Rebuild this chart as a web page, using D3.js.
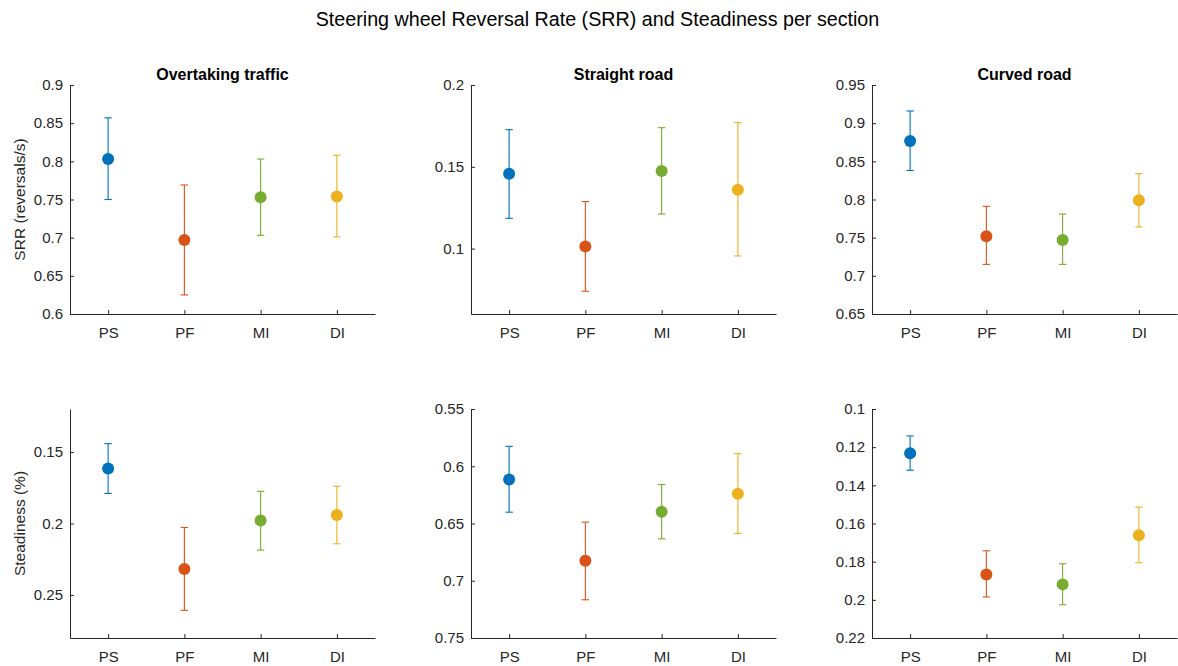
<!DOCTYPE html>
<html>
<head>
<meta charset="utf-8">
<script src="https://cdn.jsdelivr.net/npm/d3@7"></script>
<style>
  html, body { margin: 0; padding: 0; background: #fff; }
  svg { display: block; font-family: "Liberation Sans", Arial, Helvetica, sans-serif; }
</style>
</head>
<body>
<svg id="chart" width="1178" height="666"></svg>
<script>
// Conditions shown on every x axis
const conditions = ["PS", "PF", "MI", "DI"];
const colors = ["#0072BD", "#D95319", "#77AC30", "#EDB120"];
const sections = ["Overtaking traffic", "Straight road", "Curved road"];

// SRR (reversals/s): mean, lower and upper bounds per condition
const srrOvertakingMean  = [0.803, 0.697, 0.753, 0.754];
const srrOvertakingLow   = [0.750, 0.625, 0.703, 0.701];
const srrOvertakingHigh  = [0.857, 0.769, 0.803, 0.808];

const srrStraightMean    = [0.1458, 0.1012, 0.1474, 0.136];
const srrStraightLow     = [0.1185, 0.0739, 0.1211, 0.0955];
const srrStraightHigh    = [0.1727, 0.1287, 0.1739, 0.177];

const srrCurvedMean      = [0.8766, 0.752, 0.747, 0.799];
const srrCurvedLow       = [0.838, 0.715, 0.715, 0.764];
const srrCurvedHigh      = [0.916, 0.791, 0.781, 0.834];

// Steadiness (%): mean, lower and upper bounds per condition
const stOvertakingMean   = [0.1616, 0.2318, 0.1979, 0.194];
const stOvertakingLow    = [0.1442, 0.2028, 0.1775, 0.174];
const stOvertakingHigh   = [0.179, 0.2607, 0.2186, 0.2142];

const stStraightMean     = [0.6116, 0.6826, 0.6398, 0.6241];
const stStraightLow      = [0.5826, 0.6488, 0.616, 0.589];
const stStraightHigh     = [0.6401, 0.7166, 0.6634, 0.6587];

const stCurvedMean       = [0.1232, 0.1867, 0.1919, 0.1661];
const stCurvedLow        = [0.1141, 0.1743, 0.1811, 0.1514];
const stCurvedHigh       = [0.1321, 0.1985, 0.2026, 0.1806];

// Tick values for each panel
const srrOvertakingTicks = [0.6, 0.65, 0.7, 0.75, 0.8, 0.85, 0.9];
const srrStraightTicks   = [0.1, 0.15, 0.2];
const srrCurvedTicks     = [0.65, 0.7, 0.75, 0.8, 0.85, 0.9, 0.95];
const stOvertakingTicks  = [0.15, 0.2, 0.25];
const stStraightTicks    = [0.55, 0.6, 0.65, 0.7, 0.75];
const stCurvedTicks      = [0.1, 0.12, 0.14, 0.16, 0.18, 0.2, 0.22];

const panels = [
  { row: 0, col: 0, title: sections[0], ylabel: "SRR (reversals/s)", mean: srrOvertakingMean, low: srrOvertakingLow, high: srrOvertakingHigh, ylim: [0.6, 0.9], ticks: srrOvertakingTicks, reverse: false },
  { row: 0, col: 1, title: sections[1], mean: srrStraightMean, low: srrStraightLow, high: srrStraightHigh, ylim: [0.06, 0.2], ticks: srrStraightTicks, reverse: false },
  { row: 0, col: 2, title: sections[2], mean: srrCurvedMean, low: srrCurvedLow, high: srrCurvedHigh, ylim: [0.65, 0.95], ticks: srrCurvedTicks, reverse: false },
  { row: 1, col: 0, ylabel: "Steadiness (%)", mean: stOvertakingMean, low: stOvertakingLow, high: stOvertakingHigh, ylim: [0.12, 0.28], ticks: stOvertakingTicks, reverse: true },
  { row: 1, col: 1, mean: stStraightMean, low: stStraightLow, high: stStraightHigh, ylim: [0.55, 0.75], ticks: stStraightTicks, reverse: true },
  { row: 1, col: 2, mean: stCurvedMean, low: stCurvedLow, high: stCurvedHigh, ylim: [0.1, 0.22], ticks: stCurvedTicks, reverse: true }
];

const svg = d3.select("#chart");
const colLeft = [70, 471, 872];
const plotW = 305;
const rowTop = [85, 409];
const rowBottom = [314, 638];
const textColor = "#262626";

svg.append("text")
  .attr("x", 597.5).attr("y", 26)
  .attr("text-anchor", "middle")
  .attr("font-size", 19.7)
  .attr("fill", "#000")
  .text("Steering wheel Reversal Rate (SRR) and Steadiness per section");

panels.forEach(p => {
  const x0 = colLeft[p.col], x1 = x0 + plotW;
  const y0 = rowTop[p.row], y1 = rowBottom[p.row];

  const x = d3.scaleLinear().domain([0.5, 4.5]).range([x0, x1]);
  const y = d3.scaleLinear().domain(p.ylim).range(p.reverse ? [y0, y1] : [y1, y0]);

  const g = svg.append("g");

  // y axis with inward ticks
  const yAxis = g.append("g").attr("transform", `translate(${x0},0)`)
    .call(d3.axisLeft(y).tickValues(p.ticks).tickSizeInner(-4).tickSizeOuter(0).tickPadding(7).tickFormat(d => String(+d.toFixed(3))));
  // x axis with inward ticks
  const xAxis = g.append("g").attr("transform", `translate(0,${y1})`)
    .call(d3.axisBottom(x).tickValues([1, 2, 3, 4]).tickSizeInner(-4).tickSizeOuter(0).tickPadding(13).tickFormat(d => conditions[d - 1]));

  [yAxis, xAxis].forEach(a => {
    a.select(".domain").attr("stroke", textColor).attr("stroke-width", 1);
    a.selectAll(".tick line").attr("stroke", textColor);
    a.selectAll(".tick text").attr("fill", textColor).attr("font-size", 15).attr("font-family", "Liberation Sans, Arial, sans-serif");
  });

  if (p.title) {
    g.append("text")
      .attr("x", (x0 + x1) / 2).attr("y", 80)
      .attr("text-anchor", "middle")
      .attr("font-size", 16).attr("font-weight", "bold").attr("fill", "#000")
      .text(p.title);
  }
  if (p.ylabel) {
    g.append("text")
      .attr("transform", `translate(25,${(y0 + y1) / 2}) rotate(-90)`)
      .attr("text-anchor", "middle")
      .attr("font-size", 15.5).attr("fill", textColor)
      .text(p.ylabel);
  }

  // error bars and markers
  conditions.forEach((c, i) => {
    const cx = x(i + 1);
    const col = colors[i];
    const eb = g.append("g").attr("stroke", col).attr("stroke-width", 1.1);
    eb.append("line").attr("x1", cx).attr("x2", cx).attr("y1", y(p.low[i])).attr("y2", y(p.high[i]));
    eb.append("line").attr("x1", cx - 3.7).attr("x2", cx + 3.7).attr("y1", y(p.low[i])).attr("y2", y(p.low[i]));
    eb.append("line").attr("x1", cx - 3.7).attr("x2", cx + 3.7).attr("y1", y(p.high[i])).attr("y2", y(p.high[i]));
    g.append("circle").attr("cx", cx).attr("cy", y(p.mean[i])).attr("r", 6).attr("fill", col);
  });
});
</script>
</body>
</html>
